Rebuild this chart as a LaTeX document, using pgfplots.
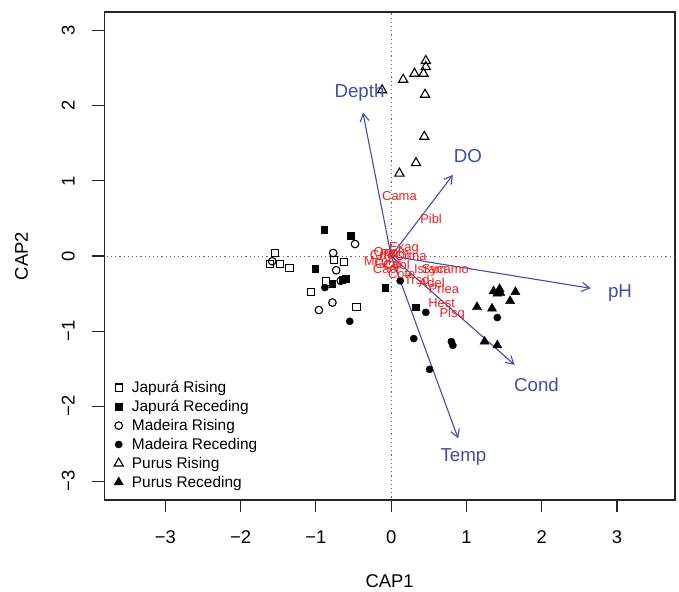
\documentclass[border=0pt]{standalone}
\usepackage{pgfplots}
\pgfplotsset{compat=1.18}
\usepackage{fontspec}
\setmainfont{Liberation Sans}
\usetikzlibrary{arrows.meta}
\definecolor{arrowblue}{RGB}{62,78,172}
\definecolor{lblred}{RGB}{240,30,30}
\pgfplotsset{myleg/.style={legend image code/.code={\path (0bp,0bp) (25bp,0bp); \draw[mark repeat=2,mark phase=2,##1] plot coordinates {(0bp,0bp) (14bp,0bp) (25bp,0bp)};}}}
\begin{document}
\begin{tikzpicture}
\begin{axis}[
  scale only axis, width=570.7bp, height=488bp,
  xmin=-3.81, xmax=3.77, ymin=-3.25, ymax=3.25,
  axis line style={line width=1.1bp, black!85},
  xtick={-3,-2,-1,0,1,2,3}, ytick={-3,-2,-1,0,1,2,3},
  xticklabels={−3,−2,−1,0,1,2,3},
  yticklabels={−3,−2,−1,0,1,2,3},
  xtick pos=bottom, ytick pos=left,
  tick align=outside, major tick length=12bp,
  tick style={line width=1.1bp, black!85},
  tick label style={font=\fontsize{18.5}{20}\selectfont},
  xticklabel style={anchor=center, yshift=-25bp},
  yticklabel style={rotate=90, anchor=center, yshift=24bp},
  xlabel={CAP1}, ylabel={CAP2},
  label style={font=\fontsize{18.5}{20}\selectfont},
  xlabel style={at={(axis description cs:0.5,0)}, anchor=center, yshift=-80.8bp},
  ylabel style={at={(axis description cs:0,0.5)}, anchor=center, yshift=82.7bp},
  legend style={draw=none, fill=none, at={(axis description cs:0,0.248)}, anchor=north west,
    font=\fontsize{15.5}{16}\selectfont, row sep=2.2bp, inner sep=0pt},
  legend cell align=left,
  clip=true,
]
% reference lines
\addplot[forget plot, black!60, line width=1bp, dash pattern=on 1.2bp off 3bp] coordinates {(-4,0) (4,0)};
\addplot[forget plot, black!60, line width=1bp, dash pattern=on 1.2bp off 3bp] coordinates {(0,-4) (0,4)};

% Japura Rising
\addplot[only marks, myleg, mark=square, mark size=3.6bp, mark options={draw=black, line width=1.1bp, fill=none}] coordinates {
(-1.54,0.04) (-1.61,-0.11) (-1.48,-0.11) (-1.35,-0.16) (-0.76,-0.05) (-0.63,-0.08) (-0.87,-0.34) (-1.06,-0.48) (-0.46,-0.68)};
\addlegendentry{Japurá Rising}
% Japura Receding
\addplot[only marks, myleg, mark=square*, mark size=3.3bp, mark options={draw=black, fill=black, line width=0.5bp}] coordinates {
(-0.89,0.35) (-0.54,0.27) (-1.01,-0.17) (-0.78,-0.37) (-0.60,-0.30) (-0.65,-0.32) (-0.08,-0.42) (0.33,-0.68)};
\addlegendentry{Japurá Receding}
% Madeira Rising
\addplot[only marks, myleg, mark=o, mark size=3.8bp, mark options={draw=black, line width=1.1bp, fill=none}] coordinates {
(-1.58,-0.07) (-0.48,0.16) (-0.77,0.04) (-0.73,-0.19) (-0.67,-0.33) (-0.78,-0.62) (-0.96,-0.72)};
\addlegendentry{Madeira Rising}
% Madeira Receding
\addplot[only marks, myleg, mark=*, mark size=3.6bp, mark options={draw=black, fill=black, line width=0.4bp}] coordinates {
(-0.88,-0.42) (-0.55,-0.87) (0.12,-0.33) (0.46,-0.75) (0.30,-1.10) (0.80,-1.14) (0.82,-1.19) (0.51,-1.51) (1.41,-0.82)};
\addlegendentry{Madeira Receding}
% Purus Rising
\addplot[only marks, myleg, mark=triangle, mark size=5.3bp, mark options={draw=black, line width=1.1bp, fill=none}] coordinates {
(0.46,2.60) (0.46,2.52) (0.43,2.43) (0.31,2.43) (0.16,2.35) (-0.12,2.21) (0.45,2.15) (0.44,1.59) (0.33,1.24) (0.11,1.10)};
\addlegendentry{Purus Rising}
% Purus Receding
\addplot[only marks, myleg, mark=triangle*, mark size=5.3bp, mark options={draw=black, fill=black, line width=0.4bp}] coordinates {
(1.36,-0.47) (1.44,-0.44) (1.41,-0.50) (1.45,-0.49) (1.65,-0.48) (1.58,-0.60) (1.14,-0.68) (1.34,-0.70) (1.24,-1.14) (1.41,-1.19)};
\addlegendentry{Purus Receding}

% species labels (red)
\addplot[forget plot, only marks, mark=none, nodes near coords, point meta=explicit symbolic,
  nodes near coords style={lblred, font=\fontsize{13}{13}\selectfont, anchor=center, inner sep=0pt}]
  table[meta=label] {
x y label
0.11 0.80 Cama
0.53 0.49 Pibl
0.17 0.10 Exag
0.26 0.00 Crtna
-0.05 0.04 Opol
-0.12 0.02 Crfo
0.05 0.03 Poch
-0.18 -0.07 Mcol
-0.04 -0.11 Gcal
0.07 -0.12 Cdol
-0.06 -0.17 Cacr
0.14 -0.24 Cote
0.52 -0.17 Isram
0.72 -0.19 Sycamo
0.34 -0.32 Trsd
0.54 -0.36 Adel
0.70 -0.44 Prlea
0.67 -0.63 Hest
0.81 -0.78 Plsq
};

% arrows
\addplot[forget plot, arrowblue, line width=1.1bp, -{Straight Barb[angle=60:9bp, line width=1.1bp]}] coordinates {(0,0) (-0.375,1.91)};
\addplot[forget plot, arrowblue, line width=1.1bp, -{Straight Barb[angle=60:9bp, line width=1.1bp]}] coordinates {(0,0) (0.82,1.08)};
\addplot[forget plot, arrowblue, line width=1.1bp, -{Straight Barb[angle=60:9bp, line width=1.1bp]}] coordinates {(0,0) (2.65,-0.43)};
\addplot[forget plot, arrowblue, line width=1.1bp, -{Straight Barb[angle=60:9bp, line width=1.1bp]}] coordinates {(0,0) (1.64,-1.45)};
\addplot[forget plot, arrowblue, line width=1.1bp, -{Straight Barb[angle=60:9bp, line width=1.1bp]}] coordinates {(0,0) (0.89,-2.43)};

% arrow labels
\addplot[forget plot, only marks, mark=none, nodes near coords, point meta=explicit symbolic,
  nodes near coords style={arrowblue, font=\fontsize{18.8}{19}\selectfont, anchor=center, inner sep=0pt}]
  table[meta=label] {
x y label
-0.42 2.18 Depth
1.02 1.33 DO
3.04 -0.49 pH
1.93 -1.72 Cond
0.96 -2.68 Temp
};
\end{axis}
\pgfresetboundingbox
\path (current axis.south west) ++(-104.3bp,-92bp) rectangle ++(679bp,592bp);
\end{tikzpicture}
\end{document}
